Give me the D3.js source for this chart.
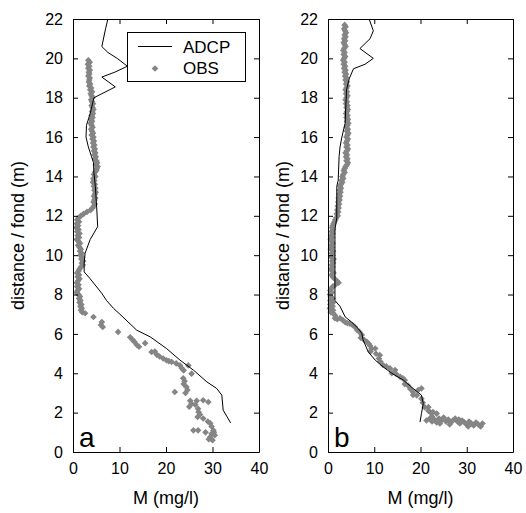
<!DOCTYPE html>
<html><head><meta charset="utf-8">
<script src="https://cdn.jsdelivr.net/npm/d3@7/dist/d3.min.js"></script>
<style>
body{margin:0;background:#fff;}
text{font-family:Arial,"Liberation Sans",sans-serif;fill:#000;}
</style></head>
<body>
<svg id="chart" width="526" height="513"></svg>
<script>
// ---------- DATA ----------
const xTicks = [0, 10, 20, 30, 40];
const yTicks = [0, 2, 4, 6, 8, 10, 12, 14, 16, 18, 20, 22];
const seriesNames = ["ADCP", "OBS"];
const panelLabels = ["a", "b"];

// Panel a – ADCP profile
const adcpA_M = [7.5,7.0,6.2,7.5,9.5,11.7,9.0,6.2,9.1,4.5,3.7,2.9,2.8,3.3,4.0,4.4,4.5,4.8,5.1,5.3,3.7,2.6,2.4,2.4,3.7,6.2,7.2,8.7,10.1,13.7,16.6,20.1,23.0,25.9,28.8,30.9,32.0,32.3,33.9];
const adcpA_D = [22,21.5,20.6,20.3,20.0,19.6,19.3,19.05,18.55,18.0,17.2,16.6,16.0,15.5,15.0,14.7,14.2,13.5,12.4,11.45,10.8,10.1,9.6,9.15,8.8,8.06,7.7,7.3,7.0,6.19,5.85,5.26,4.67,4.16,3.56,3.23,2.89,2.12,1.48];

// Panel a – OBS samples
const obsA_M = [3.3,3.6,3.2,3.5,3.3,3.6,3.4,3.5,3.3,3.6,3.5,3.4,3.7,3.5,3.9,3.7,4.1,3.8,4.0,4.2,3.9,4.1,4.3,4.0,4.2,4.4,4.1,4.3,4.0,4.2,3.9,4.1,3.8,4.0,4.2,3.9,4.1,4.3,4.0,4.4,4.2,4.5,4.3,4.6,4.4,4.7,4.5,4.8,4.6,4.9,4.7,5.0,5.2,4.9,5.3,5.1,5.0,4.7,4.5,4.8,4.4,4.6,4.3,4.7,4.5,4.8,4.6,4.9,4.7,4.5,4.8,4.6,4.4,4.7,4.5,4.2,3.8,3.0,2.3,1.7,1.2,0.9,1.3,0.8,1.1,0.7,1.2,0.9,1.4,1.0,1.3,0.8,1.2,1.5,1.1,1.4,1.7,1.5,1.9,1.6,2.0,1.8,2.2,1.9,2.1,1.7,1.4,1.2,0.9,1.3,1.0,1.4,1.1,0.8,1.2,0.9,1.3,1.0,0.8,1.2,1.5,1.3,1.6,1.4,1.8,1.6,1.9,1.7,2.0,2.6,
  4.4,6.2,6.0,6.4,9.7,12.3,12.8,13.2,13.7,14.2,15.5,16.9,17.6,18.0,18.6,19.4,20.1,20.6,21.2,22.2,23.0,23.4,23.8,24.8,25.5,23.7,24.0,23.8,24.4,24.6,24.2,21.9,25.2,25.5,25.0,26.6,26.3,26.9,28.0,29.1,27.0,27.3,26.8,28.0,29.0,29.5,29.8,30.2,25.9,26.9,28.5,29.5,29.8,30.3,30.5,29.2,30.0];
const obsA_D = [19.9,19.8,19.7,19.6,19.5,19.4,19.3,19.2,19.1,19.0,18.9,18.8,18.7,18.6,18.5,18.4,18.3,18.2,18.1,18.0,17.9,17.8,17.7,17.6,17.5,17.4,17.3,17.2,17.1,17.0,16.9,16.8,16.7,16.6,16.5,16.4,16.3,16.2,16.1,16.0,15.9,15.8,15.7,15.6,15.5,15.4,15.3,15.2,15.1,15.0,14.9,14.8,14.7,14.6,14.5,14.4,14.3,14.2,14.1,14.0,13.9,13.8,13.7,13.6,13.5,13.4,13.3,13.2,13.1,13.0,12.9,12.8,12.7,12.6,12.5,12.4,12.3,12.2,12.1,12.0,11.9,11.8,11.7,11.6,11.5,11.4,11.3,11.2,11.1,11.0,10.9,10.8,10.7,10.6,10.5,10.4,10.3,10.2,10.1,10.0,9.9,9.8,9.7,9.6,9.5,9.4,9.3,9.2,9.1,9.0,8.9,8.8,8.7,8.6,8.5,8.4,8.3,8.2,8.1,8.0,7.9,7.8,7.7,7.6,7.5,7.4,7.3,7.2,7.1,7.05,
  6.86,6.6,6.45,6.35,6.1,5.83,5.7,5.6,5.45,5.35,5.53,5.08,5.1,4.95,4.85,4.75,4.66,4.62,4.58,4.5,4.4,4.25,4.15,4.4,3.98,3.75,3.6,3.45,3.3,3.15,3.0,3.05,2.6,2.45,2.3,2.6,2.4,2.2,2.63,2.54,2.03,1.9,1.78,1.7,1.55,1.46,1.3,1.1,1.1,1.1,1.0,0.76,0.93,1.0,0.85,0.65,0.6];

// Panel b – ADCP profile
const adcpB_M = [8.9,9.8,9.1,6.9,9.8,8.0,5.5,4.6,4.0,3.7,3.0,2.6,2.4,2.2,1.9,1.9,1.5,1.5,1.5,2.6,3.7,5.1,6.5,7.3,7.6,8.7,10.2,11.9,13.8,16.3,18.4,20.2,20.6,20.2,19.9];
const adcpB_D = [22,21.4,21.0,20.5,20.0,19.7,19.47,18.97,18.4,16.7,16.0,15.5,15.0,13.8,13.5,11.9,11.3,8.4,7.7,7.4,6.87,6.6,6.28,6.03,5.69,5.09,4.67,4.33,4.0,3.65,3.23,2.89,2.46,1.95,1.52];

// Panel b – OBS samples
const obsB_M = [3.6,3.8,3.5,3.7,3.9,3.6,3.8,3.5,3.7,3.4,3.6,3.8,3.5,3.3,3.6,3.4,3.7,3.5,3.3,3.6,3.4,3.7,3.5,3.8,3.6,3.9,3.7,4.0,3.8,4.1,3.9,4.2,4.0,3.8,4.1,3.9,4.2,4.0,3.8,4.1,3.9,4.2,4.0,4.3,4.1,3.9,4.2,4.0,4.3,4.1,4.4,4.2,4.0,4.3,4.1,4.4,4.2,4.0,4.3,4.1,3.9,4.2,4.0,4.3,4.1,3.8,4.1,3.9,4.2,4.0,4.3,4.1,3.8,3.6,3.4,3.6,3.3,3.1,3.3,2.9,3.1,2.8,2.6,2.8,2.5,2.7,2.4,2.6,2.3,2.5,2.2,2.4,2.1,2.3,2.0,2.2,1.9,2.1,1.8,1.6,1.4,1.2,1.0,0.9,1.1,0.8,1.0,0.7,0.9,0.6,0.8,1.0,0.7,0.9,0.6,1.1,0.8,1.0,0.7,1.2,0.9,1.1,0.8,1.0,0.7,0.9,1.2,0.8,1.0,1.4,1.9,2.3,1.6,1.0,0.7,0.5,0.8,0.4,0.6,1.0,0.5,1.1,0.5,1.0,0.4,1.1,0.6,1.1,
  1.5,1.5,2.0,2.6,3.2,3.7,4.2,4.75,5.3,5.8,6.3,6.8,7.3,7.1,7.8,8.4,8.8,9.1,9.4,10.2,9.2,10.4,11.2,11.0,11.3,11.9,12.6,13.4,13.8,14.5,14.8,15.6,16.2,16.6,16.6,17.3,17.8,18.4,18.4,19.5,20.2,19.2,20.2,20.5,20.9,21.7,21.7,22.2,22.7,23.5,
  21.3,22.0,22.5,23.0,23.5,24.0,24.5,25.0,25.5,26.0,26.5,27.0,27.5,28.0,28.5,29.0,29.5,30.0,30.5,31.0,31.5,32.0,32.5,33.0,33.4,22.5,24.2,26.3,28.3,30.3];
const obsB_D = [21.7,21.6,21.5,21.4,21.3,21.2,21.1,21.0,20.9,20.8,20.7,20.6,20.5,20.4,20.3,20.2,20.1,20.0,19.9,19.8,19.7,19.6,19.5,19.4,19.3,19.2,19.1,19.0,18.9,18.8,18.7,18.6,18.5,18.4,18.3,18.2,18.1,18.0,17.9,17.8,17.7,17.6,17.5,17.4,17.3,17.2,17.1,17.0,16.9,16.8,16.7,16.6,16.5,16.4,16.3,16.2,16.1,16.0,15.9,15.8,15.7,15.6,15.5,15.4,15.3,15.2,15.1,15.0,14.9,14.8,14.7,14.6,14.5,14.4,14.3,14.2,14.1,14.0,13.9,13.8,13.7,13.6,13.5,13.4,13.3,13.2,13.1,13.0,12.9,12.8,12.7,12.6,12.5,12.4,12.3,12.2,12.1,12.0,11.9,11.8,11.7,11.6,11.5,11.4,11.3,11.2,11.1,11.0,10.9,10.8,10.7,10.6,10.5,10.4,10.3,10.2,10.1,10.0,9.9,9.8,9.7,9.6,9.5,9.4,9.3,9.2,9.1,9.0,8.9,8.8,8.7,8.6,8.5,8.4,8.3,8.2,8.1,8.0,7.9,7.8,7.7,7.6,7.5,7.4,7.3,7.2,7.1,7.05,
  6.95,6.8,6.75,6.8,6.7,6.6,6.55,6.52,6.45,6.35,6.2,6.1,5.95,5.8,5.7,5.6,5.5,5.4,5.25,5.26,5.1,4.99,4.92,4.75,4.6,4.42,4.35,4.25,4.0,4.16,3.95,3.82,3.75,3.65,3.45,3.38,3.2,3.05,2.9,3.15,3.23,2.88,2.71,2.5,2.28,2.28,2.1,2.0,2.03,1.95,
  1.6,1.7,1.55,1.65,1.5,1.7,1.6,1.75,1.55,1.65,1.5,1.6,1.7,1.55,1.45,1.6,1.5,1.4,1.55,1.45,1.35,1.5,1.4,1.3,1.45,1.8,1.45,1.4,1.65,1.3];

// ---------- DRAW ----------
const svg = d3.select("#chart");
const OBS_COLOR = "#858585";
const panels = [
  {left:73, right:259, top:19, bottom:452, labelX:18,
   adcp: adcpA_M.map((m,i)=>[m, adcpA_D[i]]), obs: obsA_M.map((m,i)=>[m, obsA_D[i]]), letter: panelLabels[0], legend:true},
  {left:328, right:513, top:19, bottom:452, labelX:283,
   adcp: adcpB_M.map((m,i)=>[m, adcpB_D[i]]), obs: obsB_M.map((m,i)=>[m, obsB_D[i]]), letter: panelLabels[1], legend:false}
];

const diamond = d3.symbol().type(d3.symbolSquare).size(22);

panels.forEach(p => {
  const x = d3.scaleLinear().domain([0, 40]).range([p.left, p.right]);
  const y = d3.scaleLinear().domain([0, 22]).range([p.bottom, p.top]);
  const g = svg.append("g");

  // OBS points
  g.append("g").selectAll("path").data(p.obs).join("path")
    .attr("d", diamond)
    .attr("transform", d => `translate(${x(d[0])},${y(d[1])}) rotate(45)`)
    .attr("fill", OBS_COLOR);

  // ADCP line
  g.append("path").datum(p.adcp)
    .attr("d", d3.line().x(d => x(d[0])).y(d => y(d[1])))
    .attr("fill", "none").attr("stroke", "#000").attr("stroke-width", 1);

  // axes (ticks inward on all sides)
  const axB = g.append("g").attr("transform", `translate(0,${p.bottom})`)
    .call(d3.axisBottom(x).tickValues(xTicks).tickSize(-5).tickSizeOuter(0).tickPadding(11));
  const axL = g.append("g").attr("transform", `translate(${p.left},0)`)
    .call(d3.axisLeft(y).tickValues(yTicks).tickSize(-5).tickSizeOuter(0).tickPadding(10));
  const axT = g.append("g").attr("transform", `translate(0,${p.top})`)
    .call(d3.axisTop(x).tickValues(xTicks).tickSize(-5).tickSizeOuter(0).tickFormat(""));
  const axR = g.append("g").attr("transform", `translate(${p.right},0)`)
    .call(d3.axisRight(y).tickValues(yTicks).tickSize(-5).tickSizeOuter(0).tickFormat(""));
  [axB, axL, axT, axR].forEach(a => {
    a.selectAll("text").style("font-size", "16px").style("font-family", "Arial, 'Liberation Sans', sans-serif").attr("fill", "#000");
    a.selectAll("line").attr("stroke", "#000");
    a.select(".domain").attr("stroke", "#000");
  });

  // axis titles
  g.append("text").attr("x", (p.left + p.right) / 2).attr("y", 504)
    .attr("text-anchor", "middle").style("font-size", "18px").text("M (mg/l)");
  g.append("text").attr("transform", `translate(${p.labelX},${(p.top + p.bottom) / 2}) rotate(-90)`)
    .attr("text-anchor", "middle").attr("dy", "0.35em").style("font-size", "18px").text("distance / fond (m)");

  // panel letter
  g.append("text").attr("x", p.left + 6).attr("y", 447).style("font-size", "28px").text(p.letter);

  if (p.legend) {
    const lg = g.append("g");
    lg.append("rect").attr("x", 127.5).attr("y", 32.5).attr("width", 118).attr("height", 49)
      .attr("fill", "#fff").attr("stroke", "#000");
    lg.append("line").attr("x1", 138).attr("x2", 172).attr("y1", 46.5).attr("y2", 46.5).attr("stroke", "#000");
    lg.append("text").attr("x", 183).attr("y", 52.5).style("font-size", "17px").text(seriesNames[0]);
    lg.append("path").attr("d", diamond).attr("transform", "translate(155,68.5) rotate(45)").attr("fill", OBS_COLOR);
    lg.append("text").attr("x", 183).attr("y", 73.5).style("font-size", "17px").text(seriesNames[1]);
  }
});
</script>
</body></html>
